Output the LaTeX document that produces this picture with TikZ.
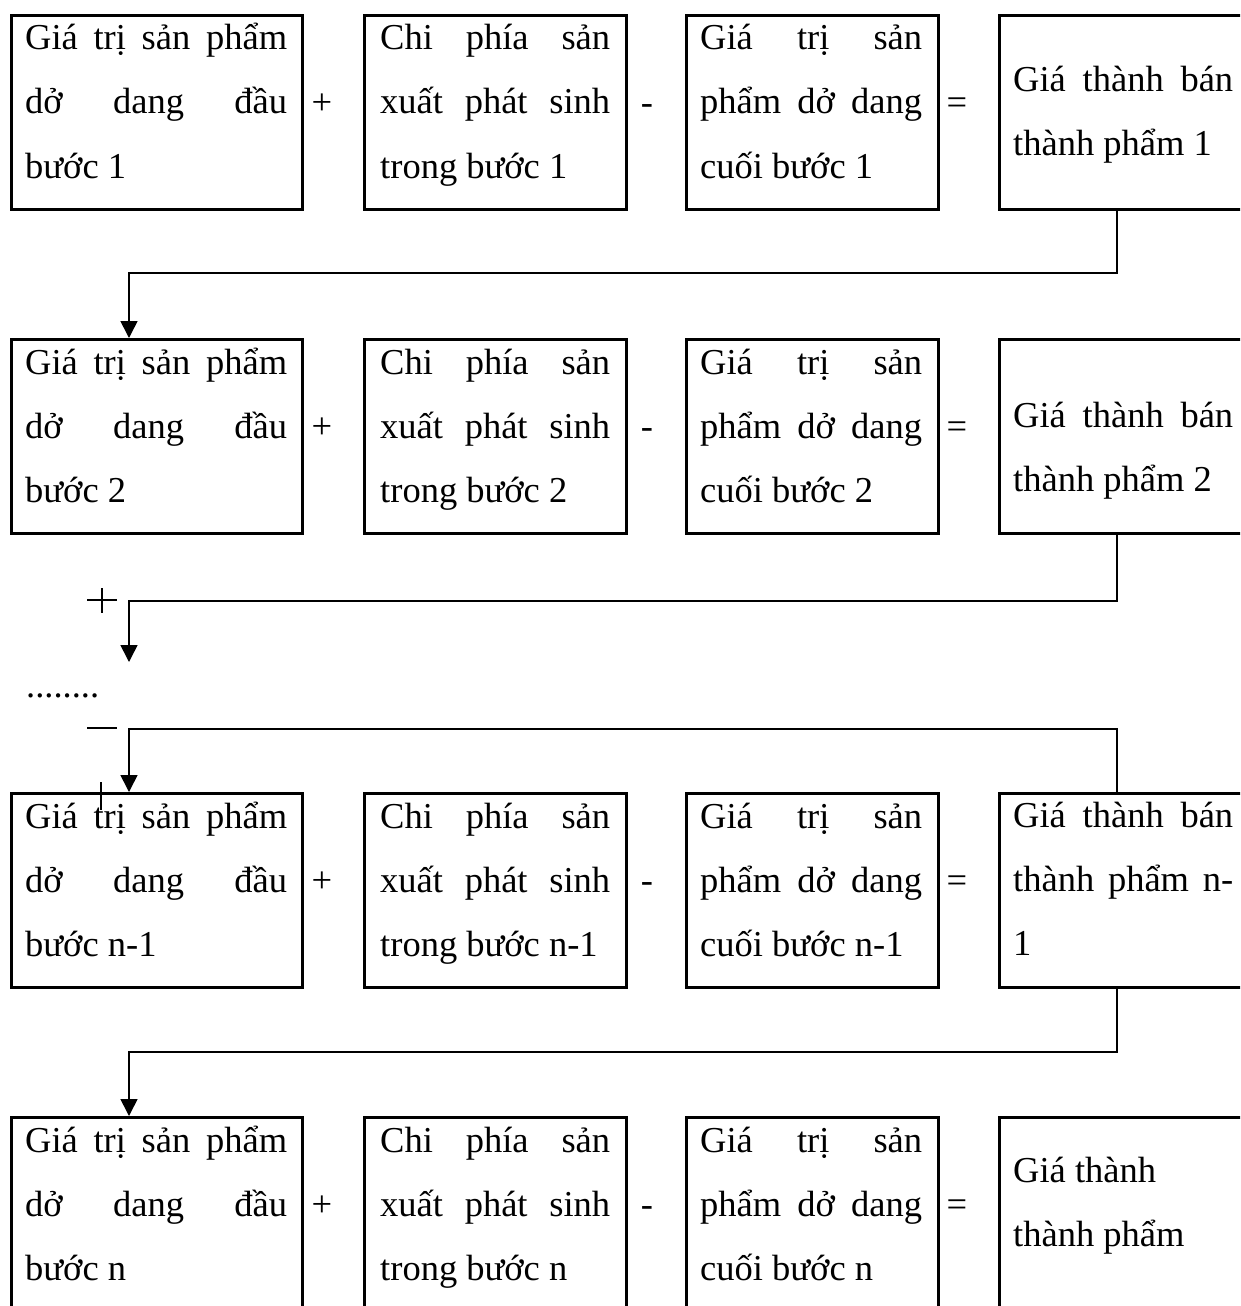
\documentclass[tikz,border=0pt]{standalone}
\usepackage{fontspec}
\setmainfont{Liberation Serif}
\usetikzlibrary{arrows.meta}

% a text line stretched to the full width of its box
\newcommand\spreadline[1]{\makebox[\linewidth][s]{#1}}

% one step of the calculation: three boxes, the operators and the (empty) result box
\newcommand\stagerow[3]{% #1 name prefix, #2 top edge, #3 step label
  \node[box, minimum width=291pt] (#1a) at (10,-#2) {};
  \node[txt] (#1at) at (25,-#2-36) {\parbox[t]{262pt}{\spreadline{Giá trị sản phẩm}\\\spreadline{dở dang đầu}\\bước #3}};
  \node[op] (#1p) at (322,-#2-100) {+};
  \node[box, minimum width=262pt] (#1b) at (363,-#2) {};
  \node[txt] (#1bt) at (380,-#2-36) {\parbox[t]{230pt}{\spreadline{Chi phía sản}\\\spreadline{xuất phát sinh}\\trong bước #3}};
  \node[op] (#1m) at (647,-#2-100) {-};
  \node[box, minimum width=252pt] (#1c) at (685,-#2) {};
  \node[txt] (#1ct) at (700,-#2-36) {\parbox[t]{222pt}{\spreadline{Giá trị sản}\\\spreadline{phẩm dở dang}\\cuối bước #3}};
  \node[op] (#1e) at (957,-#2-100) {=};
  \node[box, minimum width=262pt] (#1d) at (998,-#2) {};
}

\begin{document}
\begin{tikzpicture}[x=1pt,y=1pt,
  box/.style={draw, line width=2.6pt, inner sep=0pt, minimum height=194pt, anchor=north west},
  txt/.style={inner sep=0pt, anchor=base west, font=\fontsize{36.5pt}{64pt}\selectfont},
  op/.style={inner sep=0pt, anchor=base, font=\fontsize{36.5pt}{64pt}\selectfont},
  link/.style={line width=1.6pt},
  arrow/.style={link, -{Triangle[width=17pt,length=17pt]}},
  thinstroke/.style={line width=1.2pt}]
\useasboundingbox (0,0) rectangle (1240,-1306);
\clip (0,0) rectangle (1240,-1306);

% step 1
\stagerow{r1}{14}{1}
\node[txt] (r1dt) at (1013,-91) {\parbox[t]{220pt}{\spreadline{Giá thành bán}\\thành phẩm 1}};

% step 2
\stagerow{r2}{338}{2}
\node[txt] (r2dt) at (1013,-427) {\parbox[t]{220pt}{\spreadline{Giá thành bán}\\thành phẩm 2}};

% step n-1
\stagerow{r3}{792}{n-1}
\node[txt] (r3dt) at (1013,-827) {\parbox[t]{220pt}{\spreadline{Giá thành bán}\\\spreadline{thành phẩm n-}\\1}};

% step n
\stagerow{r4}{1116}{n}
\node[txt] (r4dt) at (1013,-1182) {\parbox[t]{220pt}{Giá thành\\thành phẩm}};

% carry-over connectors
\coordinate (j1) at (1117,-273);
\coordinate (k1) at (129,-273);
\draw[arrow] (r1d.south west -| j1) -- (j1) -- (k1) -- (r2a.north west -| k1);

\coordinate (j2) at (1117,-601);
\coordinate (k2) at (129,-601);
\coordinate (gap) at (129,-662);
\draw[arrow] (r2d.south west -| j2) -- (j2) -- (k2) -- (gap);

\coordinate (j3) at (1117,-729);
\coordinate (k3) at (129,-729);
\draw[arrow] (r3d.north west -| j3) -- (j3) -- (k3) -- (r3a.north west -| k3);

\coordinate (j4) at (1117,-1052);
\coordinate (k4) at (129,-1052);
\draw[arrow] (r3d.south west -| j4) -- (j4) -- (k4) -- (r4a.north west -| k4);

% skipped steps
\node[txt] (dots) at (26,-697) {........};
\draw[thinstroke] (87,-600) -- (117,-600) (102,-588) -- (102,-613);
\draw[thinstroke] (87,-728) -- (117,-728);
\draw[thinstroke] (101,-782) -- (101,-810);
\end{tikzpicture}
\end{document}
